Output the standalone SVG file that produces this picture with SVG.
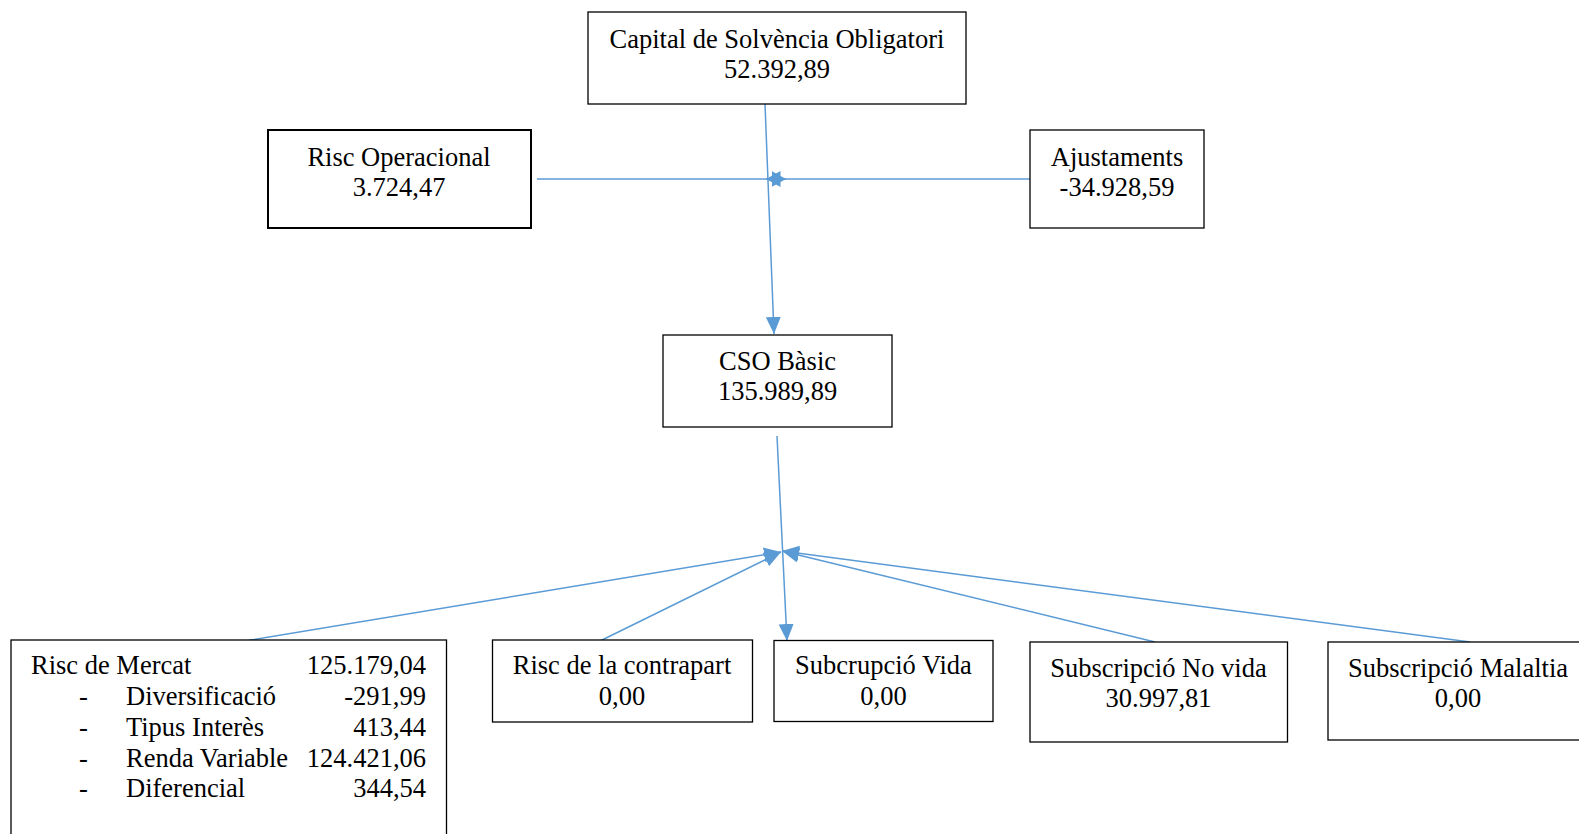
<svg xmlns="http://www.w3.org/2000/svg" width="1579" height="834" viewBox="0 0 1579 834">
<style>
.box{fill:#fff;stroke:#000;stroke-width:1.3}
.thick{stroke-width:2}
text{font-family:"Liberation Serif","Times New Roman",serif;font-size:26.5px;fill:#000}
.c{text-anchor:middle}
.r{text-anchor:end}
.con{stroke:#5B9BD5;stroke-width:1.5;fill:none}
</style>
<defs>
<marker id="ah" markerUnits="userSpaceOnUse" markerWidth="18" markerHeight="16" refX="17" refY="7.5" orient="auto">
<path d="M0,0 L17,7.5 L0,15 z" fill="#5B9BD5"/>
</marker>
<marker id="ahs" markerUnits="userSpaceOnUse" markerWidth="16" markerHeight="17" refX="14.5" refY="8" orient="auto">
<path d="M0,0 L14.5,8 L0,16 z" fill="#5B9BD5"/>
</marker>
</defs>
<rect width="1579" height="834" fill="#fff"/>
<g id="connectors">
<line class="con" x1="765" y1="104" x2="774" y2="334" marker-end="url(#ah)"/>
<line class="con" x1="537" y1="179" x2="786" y2="179" marker-end="url(#ahs)"/>
<line class="con" x1="1030" y1="179" x2="766" y2="179" marker-end="url(#ahs)"/>
<line class="con" x1="777" y1="436" x2="787" y2="641" marker-end="url(#ah)"/>
<line class="con" x1="245" y1="641" x2="781" y2="552" marker-end="url(#ah)"/>
<line class="con" x1="600" y1="641" x2="781" y2="552" marker-end="url(#ah)"/>
<line class="con" x1="1155" y1="642" x2="782" y2="551" marker-end="url(#ah)"/>
<line class="con" x1="1470" y1="642" x2="782" y2="551" marker-end="url(#ah)"/>
</g>
<g id="node-cso">
<rect class="box" x="588" y="12" width="378" height="92"/>
<text class="c" x="777" y="48">Capital de Solvència Obligatori</text>
<text class="c" x="777" y="78">52.392,89</text>
</g>
<g id="node-operacional">
<rect class="box thick" x="268" y="130" width="263" height="98"/>
<text class="c" x="399" y="166">Risc Operacional</text>
<text class="c" x="399" y="196">3.724,47</text>
</g>
<g id="node-ajustaments">
<rect class="box" x="1030" y="130" width="174" height="98"/>
<text class="c" x="1117" y="166">Ajustaments</text>
<text class="c" x="1117" y="196">-34.928,59</text>
</g>
<g id="node-basic">
<rect class="box" x="663" y="335" width="229" height="92"/>
<text class="c" x="777.5" y="370">CSO Bàsic</text>
<text class="c" x="777.5" y="400">135.989,89</text>
</g>
<g id="node-mercat">
<rect class="box" x="11" y="640" width="435.5" height="220"/>
<text x="31" y="674">Risc de Mercat</text>
<text class="r" x="426" y="674">125.179,04</text>
<text x="79" y="705">-</text>
<text x="126" y="705">Diversificació</text>
<text class="r" x="426" y="705">-291,99</text>
<text x="79" y="736">-</text>
<text x="126" y="736">Tipus Interès</text>
<text class="r" x="426" y="736">413,44</text>
<text x="79" y="767">-</text>
<text x="126" y="767">Renda Variable</text>
<text class="r" x="426" y="767">124.421,06</text>
<text x="79" y="797">-</text>
<text x="126" y="797">Diferencial</text>
<text class="r" x="426" y="797">344,54</text>
</g>
<g id="node-contrapart">
<rect class="box" x="492.5" y="640" width="260" height="82"/>
<text class="c" x="622" y="674">Risc de la contrapart</text>
<text class="c" x="622" y="705">0,00</text>
</g>
<g id="node-vida">
<rect class="box" x="774" y="640.5" width="219" height="81"/>
<text class="c" x="883.5" y="674">Subcrupció Vida</text>
<text class="c" x="883.5" y="705">0,00</text>
</g>
<g id="node-novida">
<rect class="box" x="1030" y="642" width="257.5" height="100"/>
<text class="c" x="1158.5" y="677">Subscripció No vida</text>
<text class="c" x="1158.5" y="707">30.997,81</text>
</g>
<g id="node-malaltia">
<rect class="box" x="1328" y="642" width="262" height="98"/>
<text class="c" x="1458" y="677">Subscripció Malaltia</text>
<text class="c" x="1458" y="707">0,00</text>
</g>
</svg>
